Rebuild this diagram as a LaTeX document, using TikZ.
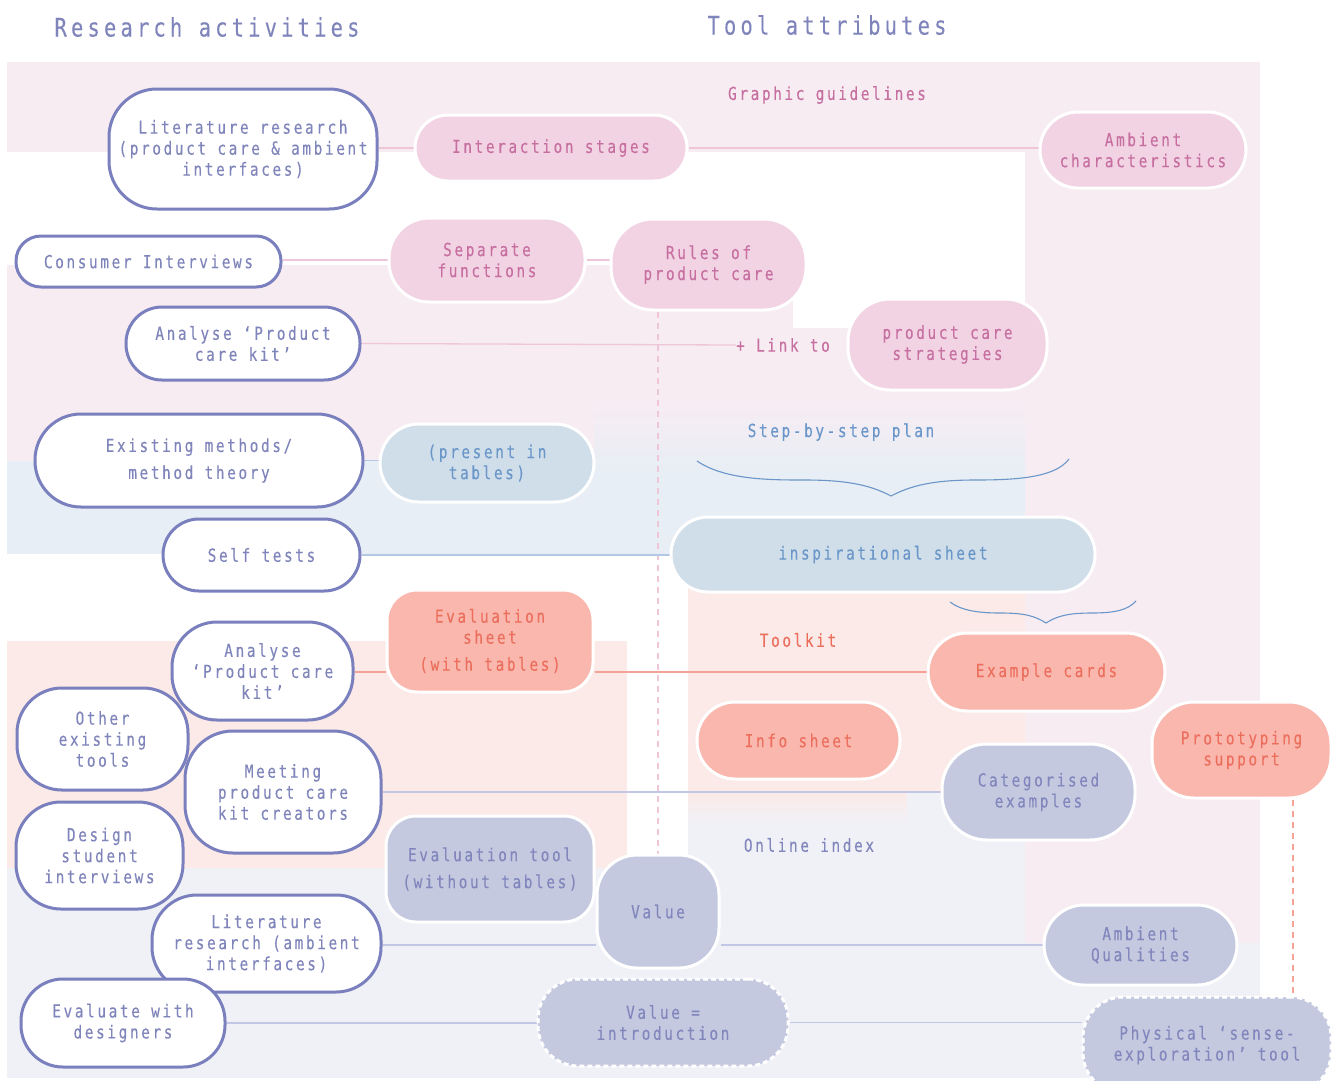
\documentclass[tikz,border=0pt]{standalone}
\usepackage{fontspec}
\newfontfamily\monof[FakeStretch=0.8,LetterSpace=14.5,FakeBold=0.15]{DejaVu Sans Mono}
\newfontfamily\titlef[FakeStretch=0.8,LetterSpace=16.5,FakeBold=0.15]{DejaVu Sans Mono}
\usetikzlibrary{calc}
\pgfdeclarelayer{areas}
\pgfdeclarelayer{links}
\pgfsetlayers{areas,links,main}
% background areas
\definecolor{pkbg}{HTML}{F8ECF3}
\definecolor{blbg}{HTML}{E7EEF5}
\definecolor{sabg}{HTML}{FBEAE7}
\definecolor{lvbg}{HTML}{F0F1F7}
% node fills
\definecolor{pkfill}{HTML}{F2D3E3}
\definecolor{blfill}{HTML}{D0DEEA}
\definecolor{safill}{HTML}{F9B7AD}
\definecolor{lvfill}{HTML}{C5C9E0}
% texts
\definecolor{pktext}{HTML}{C66FA0}
\definecolor{bltext}{HTML}{6A96C9}
\definecolor{satext}{HTML}{EC6F5E}
\definecolor{lvtext}{HTML}{8186BC}
\definecolor{resline}{HTML}{7A7FBE}
\definecolor{restext}{HTML}{7F84BA}
% connectors
\definecolor{pkline}{HTML}{EEC6D8}
\definecolor{blline}{HTML}{B3C8E2}
\definecolor{saline}{HTML}{F4A396}
\definecolor{lvline}{HTML}{C3C7E6}
\begin{document}
\begin{tikzpicture}[x=1pt,y=-1pt,
  box/.style={rectangle,align=center,inner sep=0pt,line width=3pt,
    font=\monof\fontsize{18}{21}\selectfont},
  res/.style={box,draw=resline,fill=white,text=restext},
  pk/.style={box,draw=white,fill=pkfill,text=pktext},
  bl/.style={box,draw=white,fill=blfill,text=bltext},
  sa/.style={box,draw=white,fill=safill,text=satext},
  lv/.style={box,draw=white,fill=lvfill,text=lvtext},
  lvdash/.style={lv,dashed,dash pattern=on 5pt off 3pt},
  sz/.style 2 args={minimum width=#1,minimum height=#2},
  lbl/.style={font=\monof\fontsize{18}{21}\selectfont,inner sep=0pt},
  ttl/.style={font=\titlef\fontsize{25.5}{30}\selectfont,inner sep=0pt,text=restext},
  link/.style={line width=1.3pt},
  brace/.style={draw=bltext,line width=1.1pt}]
\clip (0,0) rectangle (1336,1080);

% ---- background areas ----
\begin{pgfonlayer}{areas}
\fill[white] (0,0) rectangle (1336,1080);
\fill[lvbg] (7,868) rectangle (1260,1078);
\fill[lvbg] (688,792) rectangle (1025,868);
\fill[pkbg] (7,62) rectangle (1260,152);
\fill[pkbg] (1025,152) rectangle (1260,943);
\fill[pkbg] (7,265) rectangle (793,400);
\fill[pkbg] (793,328) rectangle (1025,400);
\fill[pkbg] (7,400) rectangle (594,461);
\fill[blbg] (7,461) rectangle (594,554);
\fill[blbg] (594,400) rectangle (1025,555);
\shade[top color=pkbg,bottom color=blbg] (594,400) rectangle (1025,475);
\fill[sabg] (7,641) rectangle (627,868);
\fill[sabg] (688,555) rectangle (1025,792);
\shade[top color=sabg,bottom color=lvbg] (688,792) rectangle (907,825);
\end{pgfonlayer}

% ---- column titles ----
\node[ttl] (t1) at (207,27) {Research activities};
\node[ttl] (t2) at (827,25) {Tool attributes};

% ---- area labels ----
\node[lbl,text=pktext] (gg) at (827,95) {Graphic guidelines};
\node[lbl,text=bltext] (sbs) at (841,432) {Step-by-step plan};
\node[lbl,text=satext] (tk) at (798,640) {Toolkit};
\node[lbl,text=lvtext] (oi) at (809,845) {Online index};
\node[lbl,text=pktext] (lk) at (783,345) {+ Link to};

% ---- tool attributes ----
\node[pk,sz={272}{66},rounded corners=33] (inter) at (551,148) {Interaction stages};
\node[pk,sz={196}{84},rounded corners=40] (sep) at (487,260) {Separate\\functions};
\node[pk,sz={195}{91},rounded corners=42] (rules) at (708.5,264.5) {Rules of\\product care};
\node[pk,sz={199}{91},rounded corners=42] (strat) at (947.5,344.5) {product care\\strategies};
\node[pk,sz={206}{76},rounded corners=38] (ambc) at (1143,150) {Ambient\\characteristics};

\node[bl,sz={214}{78},rounded corners=39] (pres) at (487,463) {(present in\\tables)};
\node[bl,sz={424}{75},rounded corners=37] (insp) at (883,554.5) {inspirational sheet};

\node[sa,sz={206}{102},rounded corners=30] (evs) at (490,641) {Evaluation\\sheet\\[6pt](with tables)};
\node[sa,sz={237}{78},rounded corners=39] (exc) at (1046.5,672) {Example cards};
\node[sa,sz={203}{77},rounded corners=38] (info) at (798.5,740.5) {Info sheet};
\node[sa,sz={179}{96},rounded corners=42] (proto) at (1241.5,750) {Prototyping\\support};

\node[lv,sz={193}{96},rounded corners=45] (cat) at (1038.5,792) {Categorised\\examples};
\node[lv,sz={208}{106},rounded corners=30] (evt) at (490,869) {Evaluation tool\\[6pt](without tables)};
\node[lv,sz={122}{113},rounded corners=40] (val) at (658,911.5) {Value};
\node[lv,sz={193}{80},rounded corners=40] (ambq) at (1140.5,945) {Ambient\\Qualities};
\node[lvdash,sz={250}{87},rounded corners=40] (vint) at (663,1022.5) {Value =\\introduction};
\node[lvdash,sz={248}{96},rounded corners=40] (phys) at (1207,1045) {Physical ‘sense-\\exploration’ tool};

% ---- research activities ----
\node[res,sz={268}{120},rounded corners=48] (litA) at (243,149) {Literature research\\(product care \& ambient\\interfaces)};
\node[res,sz={265}{51},rounded corners=25] (cons) at (148.5,261.5) {Consumer Interviews};
\node[res,sz={234}{73},rounded corners=36] (anaA) at (243,343.5) {Analyse ‘Product\\care kit’};
\node[res,sz={328}{93},rounded corners=46] (exist) at (199,460.5) {Existing methods/\\[6pt]method theory};
\node[res,sz={197}{72},rounded corners=36] (self) at (261.5,555) {Self tests};
\node[res,sz={181}{98},rounded corners=45] (anaB) at (262.5,671) {Analyse\\‘Product care\\kit’};
\node[res,sz={171}{102},rounded corners=45] (other) at (102.5,739) {Other\\existing\\tools};
\node[res,sz={196}{122},rounded corners=48] (meet) at (283,792) {Meeting\\product care\\kit creators};
\node[res,sz={167}{107},rounded corners=45] (design) at (99.5,855.5) {Design\\student\\interviews};
\node[res,sz={229}{97},rounded corners=45] (litB) at (266.5,943.5) {Literature\\research (ambient\\interfaces)};
\node[res,sz={204}{88},rounded corners=42] (evd) at (123,1023) {Evaluate with\\designers};

% ---- connectors (behind the nodes) ----
\begin{pgfonlayer}{links}
\draw[link,pkline] (litA.east |- inter.west) -- (inter.west);
\draw[link,pkline] (inter.east) -- (inter.east -| ambc.west);
\draw[link,pkline] (cons.east |- sep.west) -- (sep.west);
\draw[link,pkline] (sep.east) -- (sep.east -| rules.west);
\draw[link,pkline] (anaA.east) -- (lk.west);
\draw[link,pkline,dash pattern=on 6pt off 5pt] (val.north |- rules.south) -- (val.north);
\draw[link,blline] (exist.east) -- (exist.east -| pres.west);
\draw[link,blline] (self.east) -- (self.east -| insp.west);
\draw[link,saline] (anaB.east |- exc.west) -- (evs.west |- exc.west);
\draw[link,saline] (evs.east |- exc.west) -- (exc.west);
\draw[link,lvline] (meet.east) -- (meet.east -| cat.west);
\draw[link,lvline] (litB.east |- ambq.west) -- (val.west |- ambq.west);
\draw[link,lvline] (val.east |- ambq.west) -- (ambq.west);
\draw[link,lvline] (evd.east) -- (evd.east -| vint.west);
\draw[link,lvline] (vint.east) -- (vint.east -| phys.west);
\draw[link,saline,dash pattern=on 6pt off 5pt] ([xshift=51.5pt]proto.south) -- ([xshift=51.5pt]proto.south |- phys.north);
\end{pgfonlayer}

% ---- braces ----
\draw[brace] (697,461) .. controls (725,480) and (770,480) .. (805,480)
  .. controls (850,480) and (872,486) .. (891,496)
  .. controls (910,486) and (932,480) .. (975,480)
  .. controls (1015,480) and (1055,478) .. (1069,459);
\draw[brace] (950,602) .. controls (962,611) and (980,613) .. (1000,613)
  .. controls (1025,613) and (1035,616) .. (1046,623)
  .. controls (1057,616) and (1068,613) .. (1092,613)
  .. controls (1115,613) and (1128,610) .. (1136,601);
\end{tikzpicture}
\end{document}
